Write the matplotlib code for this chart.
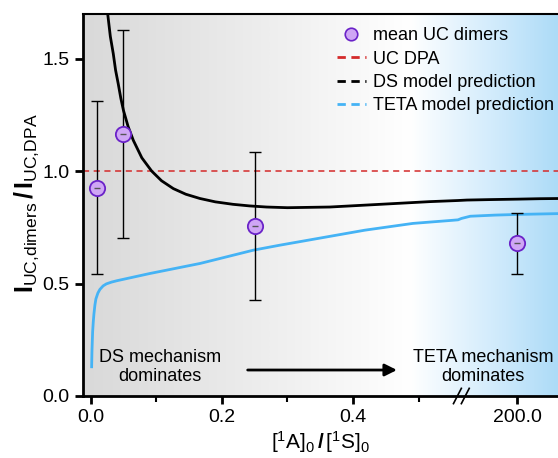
import numpy as np
import matplotlib
matplotlib.use('Agg')
import matplotlib.pyplot as plt
from matplotlib.colors import LinearSegmentedColormap
from matplotlib.lines import Line2D

plt.rcParams['font.family'] = 'Liberation Sans'
plt.rcParams['mathtext.fontset'] = 'custom'
plt.rcParams['mathtext.rm'] = 'Liberation Sans'
plt.rcParams['mathtext.it'] = 'Liberation Sans:italic'
plt.rcParams['mathtext.bf'] = 'Liberation Sans:bold'

# measured points (mean UC dimers)
xMean = [0.01, 0.05, 0.25, 200.0]
yMean = [0.927, 1.167, 0.758, 0.679]
errMean = [0.384, 0.462, 0.33, 0.137]

dpaLevel = 1.0

# DS model prediction
xDs = [0.024, 0.026, 0.030, 0.0345, 0.038, 0.042, 0.046, 0.05, 0.057, 0.065, 0.078, 0.093,
       0.108, 0.126, 0.145, 0.1665, 0.19, 0.217, 0.242, 0.268, 0.30, 0.3645, 0.441, 0.517, 0.56,
       155.0, 175.0, 200.0, 220.0, 240.0]
yDs = [1.78, 1.70, 1.60, 1.523, 1.45, 1.39, 1.325, 1.271, 1.20, 1.138, 1.06, 1.001,
       0.958, 0.923, 0.898, 0.879, 0.864, 0.853, 0.846, 0.841, 0.838, 0.841, 0.853, 0.865, 0.870,
       0.872, 0.874, 0.876, 0.878, 0.879]

# TETA model prediction
xTeta = [0.0015, 0.002, 0.003, 0.004, 0.005, 0.0065, 0.008, 0.011, 0.014, 0.019, 0.024, 0.032,
         0.040, 0.090, 0.167, 0.248, 0.288, 0.418, 0.491, 0.552, 0.56,
         150.0, 158.0, 180.0, 200.0, 240.0]
yTeta = [0.13, 0.20, 0.285, 0.33, 0.365, 0.405, 0.432, 0.458, 0.474, 0.490, 0.499, 0.507,
         0.513, 0.545, 0.590, 0.649, 0.671, 0.738, 0.768, 0.782, 0.784,
         0.790, 0.800, 0.805, 0.808, 0.812]

xTicks = [0.0, 0.2, 0.4, 200.0]
xTickLabels = ['0.0', '0.2', '0.4', '200.0']
xMinor = [0.1, 0.3, 0.5]
yTicks = [0.0, 0.5, 1.0, 1.5]
yTickLabels = ['0.0', '0.5', '1.0', '1.5']

# broken x axis: linear up to the break, then a compressed segment around 200
brk = 0.565
k = 0.0017


def fwd(x):
    x = np.asarray(x, dtype=float)
    return np.where(x < 1, x, 0.65 + (x - 200.0) * k)


def inv(u):
    u = np.asarray(u, dtype=float)
    return np.where(u < brk, u, 200.0 + (u - 0.65) / k)


fig = plt.figure(figsize=(5.58, 4.58), dpi=100)
ax = fig.add_axes([0.1487, 0.1354, 0.851, 0.834])
ax.set_xscale('function', functions=(fwd, inv))
ax.set_xlim(-0.0117, 236.5)
ax.set_ylim(0, 1.7)

# background gradient grey -> white -> light blue
cmap = LinearSegmentedColormap.from_list('bg', [
    (0.0, (0.85, 0.85, 0.85)),
    (0.40, (0.935, 0.935, 0.935)),
    (0.69, (1.0, 1.0, 1.0)),
    (0.85, (0.84, 0.93, 0.99)),
    (1.0, (0.68, 0.86, 0.97)),
])
grad = np.linspace(0, 1, 512).reshape(1, -1)
ax.imshow(grad, extent=[0, 1, 0, 1], transform=ax.transAxes, cmap=cmap,
          aspect='auto', zorder=0)

ax.axhline(dpaLevel, color='#d42a2a', lw=1.1, dashes=(4, 3), zorder=2)
ax.plot(xDs, yDs, color='black', lw=2.0, zorder=3)
ax.plot(xTeta, yTeta, color='#45b3f5', lw=2.0, zorder=3)
ax.errorbar(xMean, yMean, yerr=errMean, fmt='none', ecolor='black', elinewidth=1.0,
            capsize=4, capthick=1.0, zorder=4)
ax.plot(xMean, yMean, 'o', ms=11, mfc='#cfa6f5', mec='#6a22c8', mew=1.3, zorder=5)
ax.plot(xMean, yMean, '_', ms=4, color='#555555', mew=1.0, zorder=6)

ax.set_xticks(xTicks)
ax.set_xticklabels(xTickLabels)
ax.set_xticks(xMinor, minor=True)
ax.set_yticks(yTicks)
ax.set_yticklabels(yTickLabels)
ax.tick_params(axis='both', which='major', labelsize=14, length=6, width=2, direction='out')
ax.tick_params(axis='x', which='minor', length=4, width=1.5)

for side in ['left', 'bottom']:
    ax.spines[side].set_linewidth(2)
ax.spines['top'].set_linewidth(1.5)
ax.spines['right'].set_visible(False)

# break marks on the x axis
for off in [-0.006, 0.006]:
    ax.plot([inv(brk + off - 0.006), inv(brk + off + 0.006)], [-0.02, 0.02],
            color='black', lw=1.2, clip_on=False, zorder=7,
            transform=ax.get_xaxis_transform())

ax.set_xlabel(r'$[^{1}\mathrm{A}]_{0}\,\mathbf{/}\,[^{1}\mathrm{S}]_{0}$', fontsize=15, labelpad=2)
ax.set_ylabel(r'$\mathbf{I}_{\mathrm{UC{,}dimers}}\,\mathbf{/}\,\mathbf{I}_{\mathrm{UC{,}DPA}}$',
              fontsize=18)
ax.yaxis.set_label_coords(-0.088, 0.505)

ax.text(0.162, 0.076, 'DS mechanism\ndominates', transform=ax.transAxes, ha='center',
        va='center', fontsize=13)
ax.text(0.842, 0.076, 'TETA mechanism\ndominates', transform=ax.transAxes, ha='center',
        va='center', fontsize=13)
ax.annotate('', xy=(0.667, 0.068), xytext=(0.341, 0.068), xycoords='axes fraction',
            arrowprops=dict(arrowstyle='-|>', color='black', lw=2, mutation_scale=18))

handles = [
    Line2D([], [], marker='o', ls='none', ms=9, mfc='#cfa6f5', mec='#6a22c8', mew=1.2),
    Line2D([], [], color='#d42a2a', lw=2, dashes=(3, 2)),
    Line2D([], [], color='black', lw=2, dashes=(3, 2)),
    Line2D([], [], color='#45b3f5', lw=2, dashes=(3, 2)),
]
labels = ['mean UC dimers', 'UC DPA', 'DS model prediction', 'TETA model prediction']
ax.legend(handles, labels, loc='upper left', bbox_to_anchor=(0.535, 0.965), frameon=False,
          fontsize=13, handlelength=1.6, handletextpad=0.4, labelspacing=0.35,
          borderpad=0, borderaxespad=0)

fig.savefig('out.png', dpi=100)
